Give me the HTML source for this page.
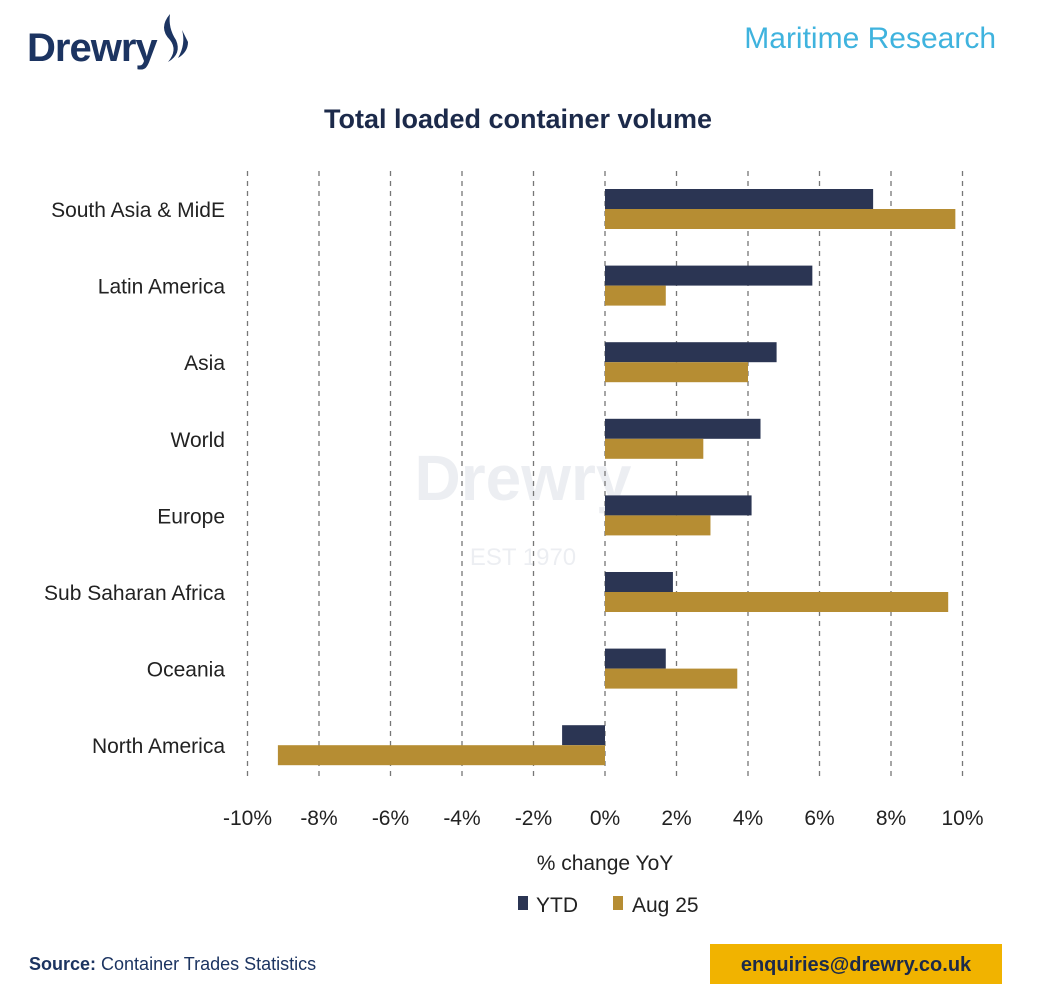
<!DOCTYPE html>
<html><head><meta charset="utf-8"><style>
body{margin:0;background:#fff;width:1050px;height:1001px;overflow:hidden;font-family:"Liberation Sans Narrow","Liberation Sans",sans-serif}
svg{display:block}
</style></head><body>
<svg width="1050" height="1001" xmlns="http://www.w3.org/2000/svg">
<g>
<text x="27" y="61" font-family="Liberation Sans" font-weight="bold" font-size="40" fill="#1c3461" letter-spacing="-1">Drewry</text>
<path d="M170 14 q-12 14 0 26 q8 10 -2 22 q14 -8 8 -22 q-8 -12 -6 -26z" fill="#1c3461"/>
<path d="M182 30 q4 14 -4 28 q10 -6 10 -16 z" fill="#1c3461"/>
</g>
<text x="996" y="48" text-anchor="end" font-family="Liberation Sans" font-size="30" fill="#3fb3de">Maritime Research</text>
<text x="518" y="128" text-anchor="middle" font-family="Liberation Sans" font-weight="bold" font-size="27" fill="#1c2a4a">Total loaded container volume</text>
<g opacity="0.08"><text x="523" y="500" text-anchor="middle" font-family="Liberation Sans" font-weight="bold" font-size="64" fill="#1c3461">Drewry</text><text x="523" y="565" text-anchor="middle" font-family="Liberation Sans" font-size="24" fill="#1c3461">EST 1970</text></g>
<g id="grid"></g><g id="bars"></g><g id="labels"></g><g id="ticks"></g>
<text x="605" y="870" text-anchor="middle" font-size="21" fill="#222">% change YoY</text>
<g>
<g><rect x="518" y="896" width="10" height="14" fill="#2b3553"/><text x="536" y="912" font-size="21" fill="#222">YTD</text></g>
<g><rect x="613" y="896" width="10" height="14" fill="#b68d33"/><text x="632" y="912" font-size="21" fill="#222">Aug 25</text></g>
</g>
<text x="29" y="970" font-size="18" fill="#1c3461"><tspan font-weight="bold">Source:</tspan> Container Trades Statistics</text>
<g><rect x="710" y="944" width="292" height="40" fill="#f1b300"/><text x="856" y="971" text-anchor="middle" font-family="Liberation Sans" font-weight="600" font-size="20" fill="#1c2a4a">enquiries@drewry.co.uk</text></g>
</svg>
<script>
const categories=["South Asia & MidE","Latin America","Asia","World","Europe","Sub Saharan Africa","Oceania","North America"];
const ytd=[7.5,5.8,4.8,4.35,4.1,1.9,1.7,-1.2];
const aug25=[9.8,1.7,4.0,2.75,2.95,9.6,3.7,-9.15];
const tickValues=[-10,-8,-6,-4,-2,0,2,4,6,8,10];
const tickLabels=["-10%","-8%","-6%","-4%","-2%","0%","2%","4%","6%","8%","10%"];
const NS="http://www.w3.org/2000/svg";
const x=v=>605+v*35.75;
const yc=i=>209+i*76.6;
function mk(t,a,p){const e=document.createElementNS(NS,t);for(const k in a)e.setAttribute(k,a[k]);document.getElementById(p).appendChild(e);return e;}
tickValues.forEach((v,i)=>{
 const l=mk("line",{x1:x(v),x2:x(v),y1:171,y2:780,stroke:"#777","stroke-width":1.3,"stroke-dasharray":"5,5"},"grid");
 
 
 const t=mk("text",{x:x(v),y:825,"text-anchor":"middle","font-size":21,fill:"#222"},"ticks");
 t.textContent=tickLabels[i];
 
 
});
categories.forEach((c,i)=>{
 const y=yc(i);
 const a=mk("rect",{x:Math.min(x(0),x(ytd[i])),y:y-20,width:Math.abs(x(ytd[i])-x(0)),height:20,fill:"#2b3553"},"bars");
 
 
 const b=mk("rect",{x:Math.min(x(0),x(aug25[i])),y:y,width:Math.abs(x(aug25[i])-x(0)),height:20,fill:"#b68d33"},"bars");
 
 
 const t=mk("text",{x:225,y:y+8,"text-anchor":"end","font-size":21,fill:"#222"},"labels");
 t.textContent=c;
 
 
});
</script>
</body></html>
